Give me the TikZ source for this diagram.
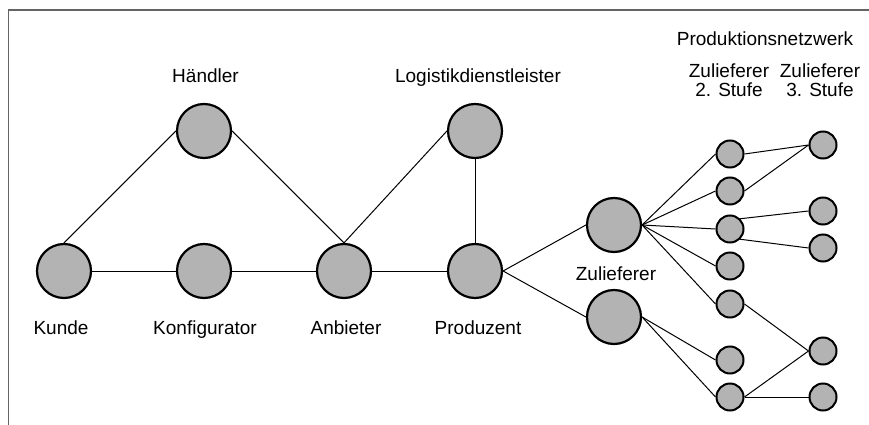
\documentclass[tikz,border=0pt]{standalone}
\usepackage{fontspec}
\setmainfont{Liberation Sans}
\definecolor{nodefill}{RGB}{179,179,179}
\definecolor{framegray}{RGB}{100,100,100}
\tikzset{
  big/.style={circle,draw=black,fill=nodefill,line width=2.2pt,minimum size=54pt,inner sep=0pt},
  small/.style={circle,draw=black,fill=nodefill,line width=2pt,minimum size=27pt,inner sep=0pt},
  lbl/.style={anchor=base,inner sep=0pt,font=\fontsize{19}{18.5}\selectfont,align=center},
  link/.style={line width=1pt,black},
}
\begin{document}
\begin{tikzpicture}[x=1pt,y=-1pt]
\useasboundingbox (0,0) rectangle (869,425);
\draw[framegray,line width=1.6pt] (8.5,425) -- (8.5,10) -- (869,10);
% main nodes
\node[big] (kunde) at (64,271) {};
\node[big] (konf) at (204,271) {};
\node[big] (anb) at (344,271) {};
\node[big] (prod) at (475,271) {};
\node[big] (haend) at (204,131) {};
\node[big] (logi) at (475,131) {};
\node[big] (z1) at (614,225) {};
\node[big] (z2) at (614,317) {};
% second tier
\node[small] (s1) at (730,154) {};
\node[small] (s2) at (730,191) {};
\node[small] (s3) at (730,229) {};
\node[small] (s4) at (730,266) {};
\node[small] (s5) at (730,304) {};
\node[small] (s6) at (730,360) {};
\node[small] (s7) at (730,397) {};
% third tier
\node[small] (t1) at (823,145) {};
\node[small] (t2) at (823,211) {};
\node[small] (t3) at (823,248) {};
\node[small] (t4) at (823,351) {};
\node[small] (t5) at (823,397) {};
% labels
\node[lbl] (lkunde) at (61,334) {Kunde};
\node[lbl] (lkonf) at (205,334) {Konfigurator};
\node[lbl] (lanb) at (346,334) {Anbieter};
\node[lbl] (lprod) at (478,334) {Produzent};
\node[lbl] (lhaend) at (205.5,83) {Händler};
\node[lbl] (llogi) at (478,83) {Logistikdienstleister};
\node[lbl] (lzul) at (616,280) {Zulieferer};
\node[lbl] (lpn) at (765,46) {Produktionsnetzwerk};
\node[lbl] (ls2) at (729,96) {Zulieferer\\2. Stufe};
\node[lbl] (ls3) at (820,96) {Zulieferer\\3. Stufe};
% connectors
\draw[link] (kunde.east) -- (konf.west);
\draw[link] (konf.east) -- (anb.west);
\draw[link] (anb.east) -- (prod.west);
\draw[link] (kunde.north) -- (haend.west);
\draw[link] (haend.east) -- (anb.north);
\draw[link] (anb.north) -- (logi.west);
\draw[link] (logi.south) -- (prod.north);
\draw[link] (prod.east) -- (z1.west);
\draw[link] (prod.east) -- (z2.west);
\foreach \s in {s1,s2,s3,s4,s5} \draw[link] (z1.east) -- (\s.west);
\foreach \s in {s6,s7} \draw[link] (z2.east) -- (\s.west);
\draw[link] (s1.east) -- (t1.west);
\draw[link] (s2.east) -- (t1.west);
\draw[link] (s3.north east) -- (t2.west);
\draw[link] (s3.south east) -- (t3.west);
\draw[link] (s5.east) -- (t4.west);
\draw[link] (s7.east) -- (t4.west);
\draw[link] (s7.east) -- (t5.west);
\end{tikzpicture}
\end{document}
